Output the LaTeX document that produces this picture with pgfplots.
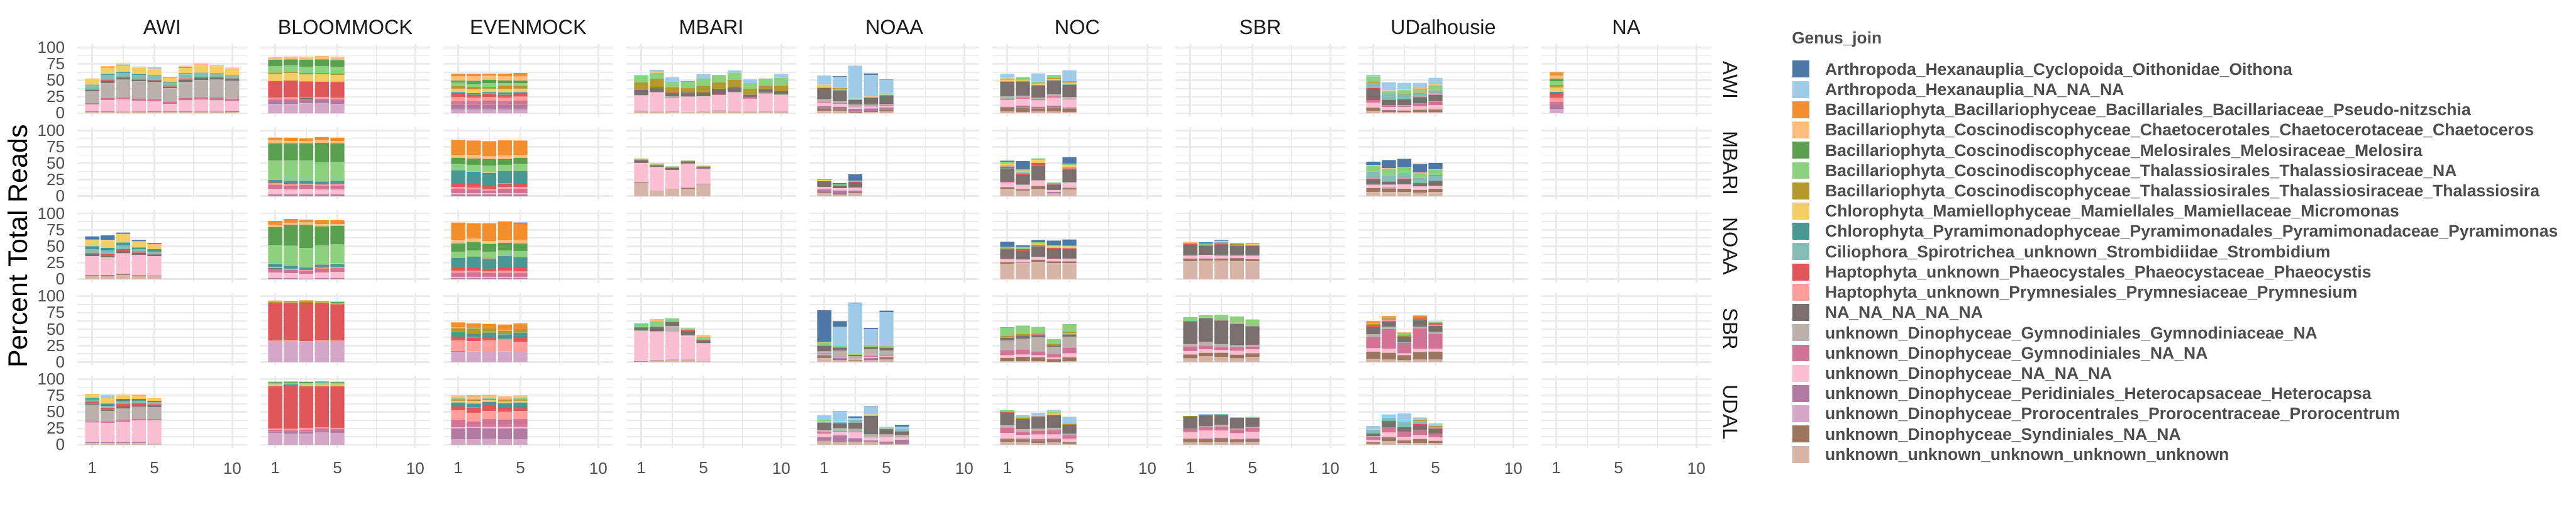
\documentclass[border=0pt]{standalone}
\usepackage{fontspec}
\setmainfont{Liberation Sans}
\usepackage{pgfplots}
\usepackage{pgfplotstable}
\pgfplotsset{compat=1.18}
\definecolor{k1}{HTML}{4E79A7}\definecolor{k2}{HTML}{A0CBE8}\definecolor{k3}{HTML}{F28E2B}\definecolor{k4}{HTML}{FFBE7D}
\definecolor{k5}{HTML}{59A14F}\definecolor{k6}{HTML}{8CD17D}\definecolor{k7}{HTML}{B6992D}\definecolor{k8}{HTML}{F1CE63}
\definecolor{k9}{HTML}{499894}\definecolor{k10}{HTML}{86BCB6}\definecolor{k11}{HTML}{E15759}\definecolor{k12}{HTML}{FF9D9A}
\definecolor{k13}{HTML}{79706E}\definecolor{k14}{HTML}{BAB0AC}\definecolor{k15}{HTML}{D37295}\definecolor{k16}{HTML}{FABFD2}
\definecolor{k17}{HTML}{B07AA1}\definecolor{k18}{HTML}{D4A6C8}\definecolor{k19}{HTML}{9D7660}\definecolor{k20}{HTML}{D7B5A6}
\definecolor{gridc}{HTML}{EBEBEB}\definecolor{tickc}{HTML}{4D4D4D}\definecolor{stripc}{HTML}{1A1A1A}

% columns listed bottom-to-top of the stack: c20 ... c1
% ===== row AWI =====
\pgfplotstableread{
x c20 c19 c18 c17 c16 c15 c14 c13 c12 c11 c10 c9 c8 c7 c6 c5 c4 c3 c2 c1
1 2 0 0 1 10.5 1.8 18.4 2.3 0 0.9 5.6 0.9 9 0 0 0 0.6 0 0 0
2 2 0 0 1 16.7 3.5 22.8 3.5 0 1.8 7.3 0.9 9.4 0 0.9 0 1.8 0 0 0
3 2.6 0 0 0.9 17.8 2.6 27.2 2.6 0 0.9 6.1 1.8 9.9 1.2 0 0 0.6 0 1.5 0
4 2.3 1.2 0 0 15.2 3.5 26.3 2.6 0 1.2 6.1 0.9 10.2 0 0 0 1.2 0 0.6 0
5 2 0 0 0.9 14.9 3.5 26 2.9 0 0.9 5.3 0.9 9.4 0 0 0 1.5 0 1.5 0
6 2 0 0 0.9 11.4 3.5 20.2 2.6 0 1.8 3.5 0.9 7 0 0.9 0 0.9 0 0 0
7 2 0 0 0.9 16.7 3.5 24.6 3.5 0 1.8 6.1 1.8 7.9 0.9 0 0 1.8 0 0.9 0
8 2.9 0 0 0.9 16.7 3.5 26.3 3.5 0 0.9 6.1 0.9 11.4 0 0 0 1.8 0 0.9 0
9 2.6 0 0 1.2 15.8 4.4 27.2 2.6 0 0.9 5.3 0.9 10.5 0 0 0 1.2 0 0.9 0
10 1.8 0.9 0 0 15.8 3.5 27.2 2.6 0 0.9 4.4 0.9 9.4 0 0 0 1.2 0 0.9 0
}\tAa
\pgfplotstableread{
x c20 c19 c18 c17 c16 c15 c14 c13 c12 c11 c10 c9 c8 c7 c6 c5 c4 c3 c2 c1
1 0 0 14 4.1 0 2.6 0 0.9 1.8 24.3 0 1.2 10.5 2.6 9.6 9.6 4.4 0 0 0
2 0 0 14 4.4 0 2.6 0 0 3.2 25.4 0 0 11.7 1.5 9.6 9.6 3.5 0.9 0 0
3 0 0 14.9 4.4 0 2.6 0 0.9 1.2 23.7 0 0.9 10.2 2.6 9.6 10.2 3.8 0.9 0 0
4 0 0 15.5 4.4 0 2.6 0 0 2.6 22.8 0 0 11.4 1.8 10.5 10.5 3.8 0.9 0 0
5 0 0 14 4.4 0 2.6 0 0 2.3 24.3 0 0.6 10.2 2.6 9.6 10.5 3.8 0.9 0 0
}\tAb
\pgfplotstableread{
x c20 c19 c18 c17 c16 c15 c14 c13 c12 c11 c10 c9 c8 c7 c6 c5 c4 c3 c2 c1
1 0 0 5.3 7.6 0 5.3 0 0 6.1 5.6 0 2.3 5.3 3.5 5.3 3.5 6.1 4.4 0 0
2 0 0 5.3 7.6 0 5.3 0 0 5.3 4.7 0 2.3 6.1 3.5 4.4 5 6.4 4.4 0 0
3 0 0 5.3 7.6 0 5.3 0 1.2 5 5.6 0 2.3 5.3 2.6 5.3 5.3 6.1 3.5 0 0
4 0 0 5.3 7.6 0 5.3 0 0 5.3 4.7 0 3.2 5.3 4.4 4.4 4.4 6.1 4.4 0 0
5 0 0 5.3 7.6 0 5.3 0 0.9 6.1 4.7 0 2.3 5.3 3.5 4.4 4.4 6.1 5.3 0 0
}\tAc
\pgfplotstableread{
x c20 c19 c18 c17 c16 c15 c14 c13 c12 c11 c10 c9 c8 c7 c6 c5 c4 c3 c2 c1
1 2.9 0 1.5 0 22.2 0 0.9 7.9 0 0 0 0 0 11.4 9.6 0 1.8 0 0 0
2 3.5 0 0 0 27.5 0.9 0.9 7 0 0 0 0 0 12.3 9.6 0 1.2 0 3.2 0
3 2 0 0.9 0 21 0.9 0.9 4.4 0 1.2 0 0 0 8.5 7.9 0 1.2 0 5.8 0
4 1.5 0 0.9 0 22.5 0 0.9 6.1 0 0 0 0 0 7 8.8 0 0 1.2 0 0
5 2.9 0 0 0 22.8 0 0 6.1 0 0 0 0 0 9.6 11.4 0 0 0 7 0
6 2.9 0 1.8 0 22.8 1.2 0 8.5 0 0 0 0 0 9.6 10.5 0 0 0 0.9 0
7 3.5 0 0 0 27.5 0 1.8 7 0 0 0 0 0 11.4 10.5 0 0 0 3.5 0
8 2.9 0 0 0 19.3 0.9 0.9 4.4 0 0 0 0 0 8.8 8.8 0 0 0 6.1 0
9 2 0 0.9 0 26.3 0.9 0.9 5.3 0 0 0 0 0 6.1 8.8 0 0 1.2 0.6 0
10 3.8 0 0 0 23.7 0 0.9 5.3 0 0 0 0 0 8.8 11.4 0 0 0 6.1 0
}\tAd
\pgfplotstableread{
x c20 c19 c18 c17 c16 c15 c14 c13 c12 c11 c10 c9 c8 c7 c6 c5 c4 c3 c2 c1
1 3.8 2.9 0 4.1 5.3 1.8 3.5 16.7 0 0 1.8 0 1.8 0.9 0 0 0.9 0 14 0
2 3.8 2.6 0 3.5 4.4 0.9 2.6 16.7 0 0 1.8 0 0.9 0.9 0.9 0 0 0 16.7 0.9
3 1.2 1.2 0 4.1 2.6 0.9 3.5 7 0 0 0 0 0 0 1.8 0 0 0 49.1 0.9
4 1.5 2 0 3.8 2.6 0.9 2.6 9.6 0 0 0.9 0 0 0 0.9 0 0.9 0 32.5 2.6
5 2.9 2.6 0 3.5 2.6 0.9 1.8 13.2 0 0 0.9 0 0.9 0 0 0 1.8 0 19.3 0.9
}\tAe
\pgfplotstableread{
x c20 c19 c18 c17 c16 c15 c14 c13 c12 c11 c10 c9 c8 c7 c6 c5 c4 c3 c2 c1
1 2.9 5.3 0 1.8 9.7 1.8 4.4 21.9 0 0 0.9 0 1.8 0 2.6 0 0.9 0 6.1 0
2 2 7 0 2.6 10.5 1.8 2.6 21.9 0 0 0 0 1.8 0.9 2.6 0 0 0 1.8 0
3 2.9 4.4 0 2.6 9.6 1.8 2.6 18.4 0 0 0.9 0 1.8 0 3.5 0 0 0 12.3 0
4 2.9 6.1 0 2.6 12.3 1.8 3.5 21 0 0 0 0 1.8 1.8 3.5 0 0 0 0.9 0
5 2 5.3 0 1.8 11.4 0.9 3.5 18.4 0 0 0.9 0 1.8 0.9 0 0 0.9 0.9 16.7 0
}\tAf
\pgfplotstableread{
x c20 c19 c18 c17 c16 c15 c14 c13 c12 c11 c10 c9 c8 c7 c6 c5 c4 c3 c2 c1
1 3.2 5.3 0 0 7.9 3.5 0 17.5 0 0.9 7.9 0 0 1.2 8.8 0 0 0 2.3 0
2 1.8 2.3 0 0.9 4.4 2.6 0 7.9 0 0.9 8.8 0 0 0 4.4 0 0.9 0 12.3 0
3 1.8 2.3 0 0 5.3 1.8 0.9 8.8 0 0.9 7 0 0 0.9 5.3 0 0.9 0 10.5 0
4 1.8 3.5 0 0 5 4.4 0 9.6 0 0.9 6.1 0 0 0.9 5.3 0 0.9 0 7.9 0
5 1.8 4.1 0 0 6.1 5.3 0.9 9.6 0.9 0 6.1 0 0 0.9 7 0 0.9 0 10.5 0
}\tAh
\pgfplotstableread{
x c20 c19 c18 c17 c16 c15 c14 c13 c12 c11 c10 c9 c8 c7 c6 c5 c4 c3 c2 c1
1 0 0 6.7 6.1 0 4.7 0 0 6.7 5.3 0 2.6 7 4.4 5.3 3.5 5.3 4.4 0 0
}\tAi
% ===== row MBARI =====
\pgfplotstableread{
x c20 c19 c18 c17 c16 c15 c14 c13 c12 c11 c10 c9 c8 c7 c6 c5 c4 c3 c2 c1
1 0 0 0 2.6 8.5 6.1 0 0 2.6 0.9 0 4.4 0.9 0 28.1 26.3 4.4 4.4 0 0
2 0 0 0 2.6 7.6 6.1 0 0 2.6 0 0 4.4 0 0 30.7 26.3 3.5 5.3 0 0
3 0 0 0 2.6 8.5 6.1 0 0 1.8 0.9 0 3.5 0 0 30.7 26.3 3.5 4.4 0 0
4 0 0 0 2.6 7.6 5.3 0 0 2.6 0 0 4.4 0 0 28.9 29.8 3.5 5.3 0 0
5 0 0 0 2.6 7.6 6.1 0 0 2.6 0 0 4.4 0 0 28.9 28.1 3.5 5.3 0 0
}\tBb
\pgfplotstableread{
x c20 c19 c18 c17 c16 c15 c14 c13 c12 c11 c10 c9 c8 c7 c6 c5 c4 c3 c2 c1
1 0 0 0 2.6 1.8 6.7 0 0 2.6 5.3 0 20.2 0 0 9.6 9.6 4.4 22.8 0 0
2 0 0 0 2.6 1.8 5.8 0 0 2.6 6.1 0 18.4 0.9 0 9.6 9.6 5.3 21.9 0 0
3 0 0 0 2.6 1.8 4.1 0 0 2.6 6.1 0 18.4 0.9 0 9.6 10.5 4.4 22.8 0 0
4 0 0 0 2.6 1.8 6.7 0 0 2.6 5.3 0.9 18.4 0 0 9.6 8.8 5.3 22.8 0 0
5 0 0 0 2.6 1.8 6.7 0 0 2.6 6.1 0 18.4 0 0 10.5 9.6 4.4 21.9 0 0
}\tBc
\pgfplotstableread{
x c20 c19 c18 c17 c16 c15 c14 c13 c12 c11 c10 c9 c8 c7 c6 c5 c4 c3 c2 c1
1 20.8 0.9 0 0 28.9 0 0 4.4 0 0 0 0 0 0.9 0.9 0 0.9 0 0 0
2 8.5 0 0 0 36 0 0 2.6 0 0 0 0 0 0.9 0.9 0 0 0 0 0.9
3 11.1 0 0 0 28.9 0 0 3.5 0 0 0 0 0 0.9 0.9 0 0 0 0 0
4 11.1 1.8 0 0 36.8 0 0 2.6 0 0 0 0 0 0.9 0.9 0 0.9 0 0 0
5 17.3 0 1.8 0 22.8 0 0 2.6 0 0 0 0 0 0.9 0.9 0 0 0 0 0
}\tBd
\pgfplotstableread{
x c20 c19 c18 c17 c16 c15 c14 c13 c12 c11 c10 c9 c8 c7 c6 c5 c4 c3 c2 c1
1 4.4 0.9 0 5 3.5 0 0 8.8 0 0 0 0 1.8 0 0 0 0 0 0 0.9
2 2.6 1.8 0 4.1 3.5 0 0 4.4 0 0 0 0 0 0 1.8 0 0 0 0 1.8
3 4.4 0.9 0 3.2 4.4 0 0 7.9 0 0.9 0 0 0 0 1.8 0 0 0 0 9.6
}\tBe
\pgfplotstableread{
x c20 c19 c18 c17 c16 c15 c14 c13 c12 c11 c10 c9 c8 c7 c6 c5 c4 c3 c2 c1
1 11.1 2.6 0 0 7 0.9 0 21 0 2.6 1.8 0 2.6 0 2.6 0 0 0 0 1.8
2 8.5 1.8 0 0 6.1 0 0.9 14.9 0 2.6 1.8 0 1.8 0.9 1.8 0 0 0 0 12.3
3 11.1 4.4 0 0 7.9 0.9 0 21.9 0 3.5 0 0.9 4.4 0 2.6 0 0 0 0 0
4 4.4 0 0 1.8 3.2 0 0 7.9 0 0.9 0 0.9 0 0 1.8 0 0 0 0 0
5 10.2 2.6 0 0 7 0 1.8 18.4 0 2.6 1.8 0 2.6 0 2.6 0 0 0 0 9.6
}\tBf
\pgfplotstableread{
x c20 c19 c18 c17 c16 c15 c14 c13 c12 c11 c10 c9 c8 c7 c6 c5 c4 c3 c2 c1
1 6.7 5.3 0 0 5.3 0 0 8.8 0 0.9 10.5 0 0 0 8.8 0 0.9 0 0 5.3
2 6.1 5.8 0 0.9 4.4 0 0.9 4.4 0 0 9.6 0 0 0 9.6 0 0.9 0 0 12.3
3 6.1 5 0 0 7 0 0 7.9 0 0.9 7 0 0 0.9 7.9 0 0.9 0 0 13.2
4 5.3 4.1 0 0 5.3 0 0 4.4 0 0.9 7.9 0 0 0 7 0 0.9 0 0 13.2
5 6.1 5 0 0 4.4 0 0 7.9 0 0 7.9 0 0 0.9 7.9 0 0.9 0 0 9.6
}\tBh
% ===== row NOAA =====
\pgfplotstableread{
x c20 c19 c18 c17 c16 c15 c14 c13 c12 c11 c10 c9 c8 c7 c6 c5 c4 c3 c2 c1
1 5.3 0.9 0 0 28.7 0 0 3.5 0 1.8 5.3 4.4 9.6 1.2 0 0 0 0 0 4.4
2 4.4 0 0 1.5 27.2 0 0 3.5 0 1.8 5.3 3.5 11.4 0 0 0 0.9 0 0 7
3 6.4 1.5 0 0 31.3 0 0 3.5 0 2.6 6.1 4.4 12.3 1.5 0 0 0 0 0 1.2
4 4.4 1.5 0 0 30.7 0 0 3.5 0 1.8 3.5 2.6 8.8 0 0.9 0 0 0 0 1.8
5 4.4 0.9 0 0 29.5 0 0 2.6 0 0.9 3.5 3.5 6.1 0 0 0 1.8 0.9 0 0.9
}\tCa
\pgfplotstableread{
x c20 c19 c18 c17 c16 c15 c14 c13 c12 c11 c10 c9 c8 c7 c6 c5 c4 c3 c2 c1
1 0 0 0 1.8 7.9 6.1 0 0.9 1.8 0 0 5 0.9 0 27.2 27.2 3.5 6.1 0 0
2 0 0 0 1.8 7 5.3 0 0 1.8 0 0 4.4 0 0 30.4 31.9 2.6 6.1 0 0
3 0 0 0 0.9 7 4.4 0 0 1.8 0 0 3.5 0.9 0 28.7 35.4 3.5 4.4 0 0
4 0 0 0 1.8 7.9 5.3 0 0.9 1.8 0 0 4.4 0.9 0 27.8 29.2 3.5 6.1 0 0
5 0 0 0 1.8 8.8 6.1 0 0 1.8 0 0 4.4 0.9 0 28.7 28.4 2.6 6.1 0 0
}\tCb
\pgfplotstableread{
x c20 c19 c18 c17 c16 c15 c14 c13 c12 c11 c10 c9 c8 c7 c6 c5 c4 c3 c2 c1
1 0 0 0 1.8 1.8 6.1 0 0 2.6 4.4 0 15.5 0 0 9.6 12.3 5.3 26.6 0 0
2 0 0 0 1.8 1.8 7 0 0 1.8 4.4 0 17.3 0 0 9.7 12.3 5.3 23.7 0 0
3 0 0 0 1.8 1.8 5.3 0 0 2.6 4.4 0 15.5 0.9 0 9.6 11.4 4.4 27.2 0 0
4 0 0 0 1.8 1.8 6.1 0 0 2.6 4.4 0 18.1 0 0 8.8 11.4 4.4 27.2 0 0.6
5 0 0 0 1.8 1.8 6.1 0 0 1.8 5.3 0 16.4 0 0 9.6 11.4 4.4 26.3 0 1.2
}\tCc
\pgfplotstableread{
x c20 c19 c18 c17 c16 c15 c14 c13 c12 c11 c10 c9 c8 c7 c6 c5 c4 c3 c2 c1
1 23.4 2.6 0 0 4.4 0.9 0 13.2 0 1.8 0 0 0 0 2.6 0 0 0 0 7.9
2 24.3 0 0 0.9 4.4 0 0 13.2 0 2.6 0 0 0 0 3.5 0 0 0 0 2.6
3 26 3.5 0 0 4.4 0 0 15.8 0 1.8 0 0 2.6 0 1.8 0 0 0 0 3.5
4 24.3 2.6 0 0 3.5 0.9 0 14 0 2.6 0 0 1.8 0 1.8 0 0 0 0 7
5 24.3 2.6 0 0 4.4 0 0 14 0 1.8 0 0 2.6 0 0.9 0 0 0 0 9.6
}\tCf
\pgfplotstableread{
x c20 c19 c18 c17 c16 c15 c14 c13 c12 c11 c10 c9 c8 c7 c6 c5 c4 c3 c2 c1
1 26.9 4.4 0 0 4.4 0 0 16.7 0 0.9 0 0 0 0.9 0.9 0 1.8 0 0 0
2 27.8 2.6 0 0.9 5.3 0 0 14 0 0.9 0 0 0 0.9 1.8 0 0 0 0 1.8
3 27.8 3.5 0 0 4.4 0 0 16.7 0 1.8 1.8 0 1.8 0 0 0 0 0 0 0.9
4 26.9 4.4 0 0.9 3.5 0 0 14.9 0 0.9 0 0 0 1.8 1.8 0 0 0 0 0
5 26.9 3.5 0 0 5.3 0 0 14.9 0 0.9 0 0 1.8 0 1.8 0 0 0 0 0
}\tCg
% ===== row SBR =====
\pgfplotstableread{
x c20 c19 c18 c17 c16 c15 c14 c13 c12 c11 c10 c9 c8 c7 c6 c5 c4 c3 c2 c1
1 0 0 29.8 0 0 0 0 0 2.6 56.7 0 0.9 0 1.8 0.9 0 0 0.9 0 0
2 0 0 30.7 0 0 0 0 0 2.6 56.7 0 0 0 0.9 1.2 0.9 0 0 0 0
3 0 0 29.8 0 0 0 0 0 1.8 58.8 0 0 0 1.5 0 1.2 0 0.6 0 0
4 0 0 30.7 0 0 0 0 0 2.6 55.8 0 0.9 0 0.9 0 0 0 1.8 0 0
5 0 0 29.8 0 0 0 0 0 2.6 55.3 0 0 0 1.2 0.9 1.5 0.6 0 0 0
}\tDb
\pgfplotstableread{
x c20 c19 c18 c17 c16 c15 c14 c13 c12 c11 c10 c9 c8 c7 c6 c5 c4 c3 c2 c1
1 0 0 15.8 0.9 0 0 0 0 15.8 6.1 0 7 0 6.1 0.9 0 0 7.6 0 0
2 0 0 16.1 0 0 0 0 0 15.5 5.3 0 7 0 6.1 0.9 0 0 7.6 0 0
3 0 0 15.5 0 0 0 0 0 17 5.3 0 7 0.9 5.3 0 0 0 7 0 0
4 0 0 16.1 0 0 0 0 0 18.1 0.9 0 7 0 5.3 0 0 0.9 8.8 0 0
5 0 0 15.5 0 0 0 0 0 15.2 7 0 7 0 5.3 0 0 0 8.8 0 0
}\tDc
\pgfplotstableread{
x c20 c19 c18 c17 c16 c15 c14 c13 c12 c11 c10 c9 c8 c7 c6 c5 c4 c3 c2 c1
1 0 0 0 1.5 45.6 0 1.2 3.5 0 0.9 0 0 0 0 5 0 1.8 0 0 0
2 1.8 0.9 0 0 42.7 0 1.2 7 0 0 0 0 0 0 8.5 0 3.5 0 0 0
3 3.5 0 0.9 0 41.8 0 8.8 6.1 0 0 0 0 0 0.9 4.4 0 0 0 0 0
4 2.6 0.9 0 0 35.7 0 1.8 6.1 0 0.9 0 0 0 0 3.5 0 0.9 0 0 0
5 1.8 0 0 0 26 0 0.9 4.4 0 0.9 0 0 0 0 3.5 0 3.5 0 0 0
}\tDd
\pgfplotstableread{
x c20 c19 c18 c17 c16 c15 c14 c13 c12 c11 c10 c9 c8 c7 c6 c5 c4 c3 c2 c1
1 6.1 3.5 0 1.8 0.9 1.8 1.8 8.8 0 0 1.5 0 0 0 3.8 0 0.9 0 0 48
2 2.6 1.8 0 1.8 0.9 0.9 9.6 3.5 0 0 0 0 0 1.8 1.8 0 0 0 28.7 8.8
3 1.8 1.8 0 0 0.9 0.9 3.5 1.8 0 0 0 0 0 0 1.8 0 0 0 76.9 0.9
4 2.6 1.8 0 1.8 1.8 0.9 10.2 3.8 0 0 0 0 0 0 2.3 0 0 0 24.9 1.8
5 3.5 2.6 0 1.8 0.9 0.9 7.9 4.1 0 0 0 0 0 1.2 1.8 0 0 0 50.9 2.6
}\tDe
\pgfplotstableread{
x c20 c19 c18 c17 c16 c15 c14 c13 c12 c11 c10 c9 c8 c7 c6 c5 c4 c3 c2 c1
1 0.9 5.3 0 0 4.1 7.9 14.3 4.4 0 0 0.9 0 0 1.8 12.3 0 0 0.9 0 0
2 0.9 7 0 0 3.2 7.9 16.1 4.4 0 0.9 0.9 0 0 1.8 12.3 0 0 0 0 0
3 0.9 6.1 0 0 3.2 6.1 21.3 3.5 0 0.9 0 0 0 1.8 9.6 0 0 0 0 0
4 0 4.4 0 0 2.6 5.3 10.5 2.6 0 0 0.9 0 0 0.9 7.9 0 0 0 0 0
5 0.9 6.1 0 0 6.1 8.8 16.7 3.5 0 0 1.8 0 0 2.6 11.4 0 0 0 0 0
}\tDf
\pgfplotstableread{
x c20 c19 c18 c17 c16 c15 c14 c13 c12 c11 c10 c9 c8 c7 c6 c5 c4 c3 c2 c1
1 5.3 6.1 0 0 5.3 7 3.5 34.2 0 0 0 0 0 0.9 5.8 0 0 0 0 0
2 8.8 5.3 0 0 5.3 5.3 6.1 36 0 0 0.9 0 0 0 3.2 0 0 0 0 0
3 7.9 6.1 0 0 4.4 4.4 4.4 36 0 0 0 0 0 0.9 7.6 0 0 0 0 0
4 5.3 5.3 0.9 0 5.3 5.3 3.5 32.5 0 0 0.9 0 0 0.9 9.4 0 0 0 0 0
5 7.9 5.3 0 0 6.1 4.4 2.6 28.1 0 0 0.9 0 0 0.9 8.5 0 0 0 0 0
}\tDg
\pgfplotstableread{
x c20 c19 c18 c17 c16 c15 c14 c13 c12 c11 c10 c9 c8 c7 c6 c5 c4 c3 c2 c1
1 4.4 11.4 0 0 5 17 4.4 10.5 0 3.5 0 0 0 1.8 1.5 0 0 2.6 0 0
2 3.5 10.5 0 0 6.1 29.8 3.5 8.8 0.9 1.8 0 0 0 1.8 1.8 0 0 1.5 0 0
3 2.6 7.9 0 0 2.6 15.8 0.9 8.8 0 0 0 0 0 1.8 2.6 0 0 2 0 0
4 3.5 11.4 0.9 0 4.4 30.7 2.6 10.5 0 2.6 0 0 0 1.8 0 0 0 2.3 0 0
5 3.5 12.3 0 0 4.4 22.8 2.6 9.6 0.9 2.6 0 0 0 0.9 1.8 0 0 0 0 0
}\tDh
% ===== row UDAL =====
\pgfplotstableread{
x c20 c19 c18 c17 c16 c15 c14 c13 c12 c11 c10 c9 c8 c7 c6 c5 c4 c3 c2 c1
1 2.6 0 0 1.8 29.5 1.8 25.4 1.8 0 3.5 2.6 2.6 6.1 0 0 0 0 0 0 0
2 2.6 0 0 1.8 28.7 2.6 15.8 1.8 0 3.5 2.6 3.5 7.9 0 0 0 0 0 6.1 0
3 2.6 0 0 1.8 30.4 2.6 18.4 2.6 0 4.4 3.5 3.5 7 0 0 0 0 0 0 0
4 2.6 0 0 1.8 33 2.6 18.4 1.8 0 3.5 3.5 2.6 5.3 0 0.9 0 0.6 0 0 0
5 2.6 0 0 0 34.8 1.8 18.4 1.8 0 2.6 2.6 2.6 4.4 0 0 0 0 0 0 0
}\tEa
\pgfplotstableread{
x c20 c19 c18 c17 c16 c15 c14 c13 c12 c11 c10 c9 c8 c7 c6 c5 c4 c3 c2 c1
1 0 0 18.4 2.3 0 2.6 0 0 1.8 64 0 0 2.6 0 2.6 1.8 0 0 0 0
2 0 0 16.7 3.5 0 2.3 0 0 1.8 66.7 0 0.9 0 0 2.6 1.8 0 0 0 0
3 0 0 17.5 3.2 0 2.6 0 0 2.6 63.2 0 0 2.6 0 1.8 2.6 0 0 0 0
4 0 0 19.3 3.2 0 2.6 0 0 1.8 62.3 0 0 2.6 0 1.8 1.8 0 1.2 0 0
5 0 0 18.4 3.5 0 2.3 0 0 1.8 63.2 0 0 2.6 0 2.6 1.8 0 0 0 0
}\tEb
\pgfplotstableread{
x c20 c19 c18 c17 c16 c15 c14 c13 c12 c11 c10 c9 c8 c7 c6 c5 c4 c3 c2 c1
1 0 0 8.5 16.7 1.8 11.4 0 0 14 6.1 0 6.1 2.6 1.8 1.8 0 3.5 0.9 0 0
2 0 0 8.5 17.5 1.8 7.9 0 0 13.2 7.9 0 6.1 3.5 1.8 1.8 0 3.5 1.8 0 0
3 0 0 9.4 15.8 2.6 11.4 0 0 12.3 7.9 0 6.1 2.6 1.8 0.9 0 4.4 0.9 0 0
4 0 0 8.5 16.7 2.6 9.6 0 0.9 12.3 7 0 6.1 2.6 1.8 1.8 0 4.4 0 0 0
5 0 0 8.5 16.7 2.6 11.4 0 0 12.3 6.1 0 7 2.6 1.8 1.8 0 3.5 0.9 0 0
}\tEc
\pgfplotstableread{
x c20 c19 c18 c17 c16 c15 c14 c13 c12 c11 c10 c9 c8 c7 c6 c5 c4 c3 c2 c1
1 5.3 0.9 0 5.8 5.3 1.8 3.5 11.4 0 0 1.8 0 0.6 0 1.8 0 0 0 7.3 0
2 3.5 0.9 0 10.2 5.6 0.9 4.1 7.9 0 0 1.8 0 0.9 0 0 0 0 0 14 0.9
3 3.5 0.9 0 5.8 8.8 1.8 3.5 9.6 0 0 4.4 0 0.9 0 0 0 0 0 1.8 2.6
4 3.5 0.9 0 2.6 4.4 0.9 3.5 28.7 0 0 0 0 1.8 0 0 0 0 0 11.4 0.9
5 1.8 0 0 3.5 7 0 3.5 8.5 0 0 0 0 0 0 0.9 0 0 0 2.6 0
6 1.8 0.9 0 5.3 3.5 0.9 2.6 5.8 0 0 1.8 0 0 0 1.5 0 0 0 3.8 2.6
}\tEe
\pgfplotstableread{
x c20 c19 c18 c17 c16 c15 c14 c13 c12 c11 c10 c9 c8 c7 c6 c5 c4 c3 c2 c1
1 4.4 3.5 0 1.8 8.5 7.9 4.4 18.4 0 1.8 0 0 0.9 0 0.9 0 0 0 0 0
2 3.5 4.4 0 1.8 5.3 4.1 4.4 15.8 0 0 0 0 0 1.8 1.8 0 0 0 2.6 0
3 2.6 4.4 0 1.8 7 5.8 3.5 18.4 0 0 0 0 1.8 0 0 0 0 0 3.5 0
4 3.5 4.4 0 1.8 6.1 6.7 3.5 19.3 0.9 0 0 0 1.8 0 1.8 0 0 0 3.5 0
5 1.8 2.6 0 0 5.3 5.3 1.8 13.7 0 0 0 0 0 1.8 0 0 0 0 10.5 0
}\tEf
\pgfplotstableread{
x c20 c19 c18 c17 c16 c15 c14 c13 c12 c11 c10 c9 c8 c7 c6 c5 c4 c3 c2 c1
1 3.5 6.1 0 0 9.6 5.3 0 18.4 0 0 0 0 0 0.9 0 0 0 0 0 0
2 3.5 5.3 0 0.9 12.3 5.3 0.9 16.7 0 0 0 0 0 0 1.2 0 0 0 1.2 0
3 4.4 5.3 0 0.9 11.4 6.1 2.6 14.9 0 0 1.5 0 0 0 0 0 0 0 0 0
4 3.5 4.4 0 0.9 8.8 6.1 0.9 16.7 0 0 0 0 0.9 0 0 0 0 0 0 0
5 4.4 4.4 0 0.9 10.5 6.1 0.9 14 0.9 0 0 0 0 0 0.6 0 0 0 0 0
}\tEg
\pgfplotstableread{
x c20 c19 c18 c17 c16 c15 c14 c13 c12 c11 c10 c9 c8 c7 c6 c5 c4 c3 c2 c1
1 1.8 2.6 0 0 3.5 4.4 0.9 4.4 0 0 5.8 0 0 0 0 0 0 0 5.3 0
2 5.3 6.1 0 0 7.6 7.9 0 8.8 0 0.9 4.4 0 0 0 0 0 0.9 0 4.4 0
3 2.6 4.4 0 0 5.3 7 0.9 6.7 0 0 8.8 0 0.9 0 0 0 0 0 11.4 0
4 2.6 6.1 0 0 6.1 7 0 9.1 0 0.9 4.7 0 0 1.2 0 0 0 0 4.1 0
5 2.6 3.5 0 0 5.3 6.1 0 6.7 0 0.9 2.6 0 0 1.2 0 0 0 0 4.1 0
}\tEh

\pgfplotsset{panel/.style={
  scale only axis, width=74pt, height=31.55pt, anchor=north west,
  xmin=0.055, xmax=10.945, ymin=-5, ymax=105,
  xtick={1,5,10}, ytick={0,25,50,75,100},
  minor xtick={3,7.5}, minor ytick={12.5,37.5,62.5,87.5},
  grid=both,
  major grid style={draw=gridc, line width=0.75pt},
  minor grid style={draw=gridc, line width=0.42pt},
  axis line style={draw=none}, tick style={draw=none},
  major tick length=0pt, minor tick length=0pt,
  xticklabels={}, yticklabels={},
  ticklabel style={font=\fontsize{7.15}{8}\selectfont, text=tickc, inner sep=0pt},
  yticklabel style={anchor=east, xshift=-5.35pt},
  xticklabel style={anchor=north, yshift=-6pt},
  /pgf/number format/assume math mode=true,
  ybar stacked, bar width=0.9,
}}
\newcommand\panel[4]{%
\begin{axis}[panel, at={({(135.4+#1*319.7)*0.25pt},{-(77.3+#2*144.75)*0.25pt})}, #3]
\ifx\relax#4\relax\else
\pgfplotsinvokeforeach{20,19,...,1}{\addplot[fill=k##1, draw=none] table[x=x, y=c##1] {#4};}
\fi
\end{axis}}
\def\YL{yticklabels={0,25,50,75,100}}
\def\XL{xticklabels={1,5,10}}

\begin{document}
\begin{tikzpicture}
\useasboundingbox (0,0) rectangle (1125pt,-225pt);
% row AWI
\panel{0}{0}{\YL}{\tAa}
\panel{1}{0}{}{\tAb}
\panel{2}{0}{}{\tAc}
\panel{3}{0}{}{\tAd}
\panel{4}{0}{}{\tAe}
\panel{5}{0}{}{\tAf}
\panel{6}{0}{}{}
\panel{7}{0}{}{\tAh}
\panel{8}{0}{}{\tAi}
% row MBARI
\panel{0}{1}{\YL}{}
\panel{1}{1}{}{\tBb}
\panel{2}{1}{}{\tBc}
\panel{3}{1}{}{\tBd}
\panel{4}{1}{}{\tBe}
\panel{5}{1}{}{\tBf}
\panel{6}{1}{}{}
\panel{7}{1}{}{\tBh}
\panel{8}{1}{}{}
% row NOAA
\panel{0}{2}{\YL}{\tCa}
\panel{1}{2}{}{\tCb}
\panel{2}{2}{}{\tCc}
\panel{3}{2}{}{}
\panel{4}{2}{}{}
\panel{5}{2}{}{\tCf}
\panel{6}{2}{}{\tCg}
\panel{7}{2}{}{}
\panel{8}{2}{}{}
% row SBR
\panel{0}{3}{\YL}{}
\panel{1}{3}{}{\tDb}
\panel{2}{3}{}{\tDc}
\panel{3}{3}{}{\tDd}
\panel{4}{3}{}{\tDe}
\panel{5}{3}{}{\tDf}
\panel{6}{3}{}{\tDg}
\panel{7}{3}{}{\tDh}
\panel{8}{3}{}{}
% row UDAL
\panel{0}{4}{\YL,\XL}{\tEa}
\panel{1}{4}{\XL}{\tEb}
\panel{2}{4}{\XL}{\tEc}
\panel{3}{4}{\XL}{}
\panel{4}{4}{\XL}{\tEe}
\panel{5}{4}{\XL}{\tEf}
\panel{6}{4}{\XL}{\tEg}
\panel{7}{4}{\XL}{\tEh}
\panel{8}{4}{\XL}{}

\begin{scope}[x=0.25pt, y=-0.25pt]
\foreach \lab [count=\c from 0] in {AWI,BLOOMMOCK,EVENMOCK,MBARI,NOAA,NOC,SBR,UDalhousie,NA}
  \node[anchor=base, inner sep=0pt, text=stripc, font=\fontsize{8.9}{10}\selectfont] at ({135.4+148+\c*319.7},60) {\lab};
\foreach \lab [count=\r from 0] in {AWI,MBARI,NOAA,SBR,UDAL}
  \node[anchor=base, rotate=-90, inner sep=0pt, text=stripc, font=\fontsize{8.9}{10}\selectfont] at (3011,{77.3+63.1+\r*144.75}) {\lab};
\node[anchor=base, rotate=90, inner sep=0pt, text=black, font=\fontsize{11.8}{14}\selectfont] at (47.5,429.9) {Percent Total Reads};
\node[anchor=base west, inner sep=0pt, text=tickc, font=\bfseries\fontsize{7.2}{8}\selectfont] at (3129.5,76) {Genus\_join};
\foreach \name [count=\i] in {
Arthropoda\_Hexanauplia\_Cyclopoida\_Oithonidae\_Oithona,
Arthropoda\_Hexanauplia\_NA\_NA\_NA,
Bacillariophyta\_Bacillariophyceae\_Bacillariales\_Bacillariaceae\_Pseudo-nitzschia,
Bacillariophyta\_Coscinodiscophyceae\_Chaetocerotales\_Chaetocerotaceae\_Chaetoceros,
Bacillariophyta\_Coscinodiscophyceae\_Melosirales\_Melosiraceae\_Melosira,
Bacillariophyta\_Coscinodiscophyceae\_Thalassiosirales\_Thalassiosiraceae\_NA,
Bacillariophyta\_Coscinodiscophyceae\_Thalassiosirales\_Thalassiosiraceae\_Thalassiosira,
Chlorophyta\_Mamiellophyceae\_Mamiellales\_Mamiellaceae\_Micromonas,
Chlorophyta\_Pyramimonadophyceae\_Pyramimonadales\_Pyramimonadaceae\_Pyramimonas,
Ciliophora\_Spirotrichea\_unknown\_Strombidiidae\_Strombidium,
Haptophyta\_unknown\_Phaeocystales\_Phaeocystaceae\_Phaeocystis,
Haptophyta\_unknown\_Prymnesiales\_Prymnesiaceae\_Prymnesium,
NA\_NA\_NA\_NA\_NA,
unknown\_Dinophyceae\_Gymnodiniales\_Gymnodiniaceae\_NA,
unknown\_Dinophyceae\_Gymnodiniales\_NA\_NA,
unknown\_Dinophyceae\_NA\_NA\_NA,
unknown\_Dinophyceae\_Peridiniales\_Heterocapsaceae\_Heterocapsa,
unknown\_Dinophyceae\_Prorocentrales\_Prorocentraceae\_Prorocentrum,
unknown\_Dinophyceae\_Syndiniales\_NA\_NA,
unknown\_unknown\_unknown\_unknown\_unknown}{
  \fill[fill=k\i] (3131,{106+(\i-1)*35.4}) rectangle ++(30,29.5);
  \node[anchor=base west, inner sep=0pt, text=tickc, font=\bfseries\fontsize{7.3}{9}\selectfont] at (3187.5,{120.75+(\i-1)*35.4+10.2}) {\name};
}
\end{scope}
\end{tikzpicture}
\end{document}
